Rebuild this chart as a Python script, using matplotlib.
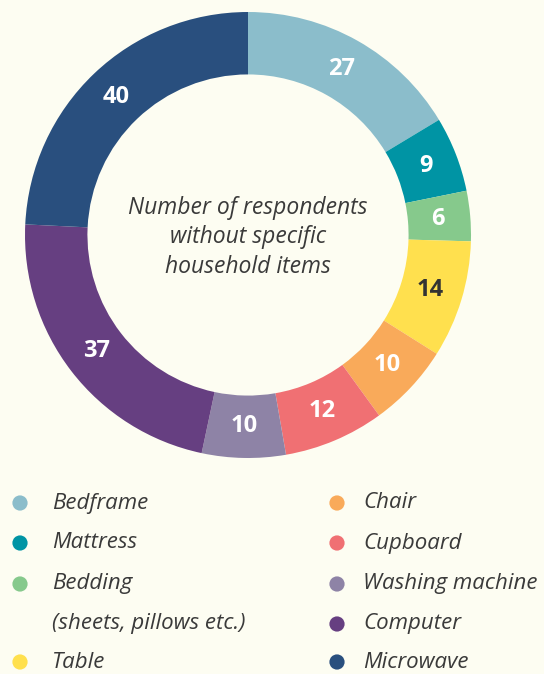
import numpy as np
import matplotlib
matplotlib.use('Agg')
import matplotlib.pyplot as plt

# data
items = ['Bedframe', 'Mattress', 'Bedding', 'Table', 'Chair', 'Cupboard',
         'Washing machine', 'Computer', 'Microwave']
counts = [27, 9, 6, 14, 10, 12, 10, 37, 40]
colors = ['#8bbdcb', '#0094a4', '#86c98c', '#ffe04e', '#f9aa5a', '#f07073',
          '#8e83a6', '#663f81', '#294f7e']
label_colors = ['white', 'white', 'white', '#333333', 'white', 'white',
                'white', 'white', 'white']
legend_left = ['Bedframe', 'Mattress', 'Bedding', '(sheets, pillows etc.)', 'Table']
legend_right = ['Chair', 'Cupboard', 'Washing machine', 'Computer', 'Microwave']

bg = '#fdfdf2'
txt = '#3a3a3a'

fig = plt.figure(figsize=(5.44, 6.74), dpi=100, facecolor=bg)

# donut
ax = fig.add_axes([25/544, 216/674, 446/544, 446/674])
ax.set_facecolor(bg)
width = 0.28
wedges, _ = ax.pie(counts, colors=colors, startangle=90, counterclock=False,
                   radius=1, wedgeprops=dict(width=width, edgecolor='none'))
ax.set_xlim(-1, 1)
ax.set_ylim(-1, 1)
ax.axis('off')

total = sum(counts)
cum = 0
for v, c in zip(counts, label_colors):
    mid = (cum + v / 2) / total * 2 * np.pi
    cum += v
    r = 0.855
    ax.text(r * np.sin(mid), r * np.cos(mid), str(v), color=c, fontsize=17,
            fontweight='bold', family='Open Sans', ha='center', va='center')

ax.text(0, -0.01, 'Number of respondents\nwithout specific\nhousehold items',
        ha='center', va='center', fontsize=16.5, style='italic', family='Open Sans',
        color=txt, linespacing=1.3)

# legend drawn on an overlay in pixel coordinates
lax = fig.add_axes([0, 0, 1, 1])
lax.set_xlim(0, 544)
lax.set_ylim(674, 0)
lax.axis('off')
lax.patch.set_alpha(0)

cmap = dict(zip(items, colors))
rows_y = [503, 543, 584, 624, 662]
for name, y in zip(legend_left, rows_y):
    if name in cmap:
        lax.scatter(20, y, s=120, color=cmap[name], edgecolor='none')
    lax.text(52, y, name, fontsize=16, style='italic', family='Open Sans',
             color=txt, va='center', ha='left')
for name, y in zip(legend_right, rows_y):
    lax.scatter(337, y, s=120, color=cmap[name], edgecolor='none')
    lax.text(363, y, name, fontsize=16, style='italic', family='Open Sans',
             color=txt, va='center', ha='left')

fig.savefig('out.png', dpi=100, facecolor=bg)
